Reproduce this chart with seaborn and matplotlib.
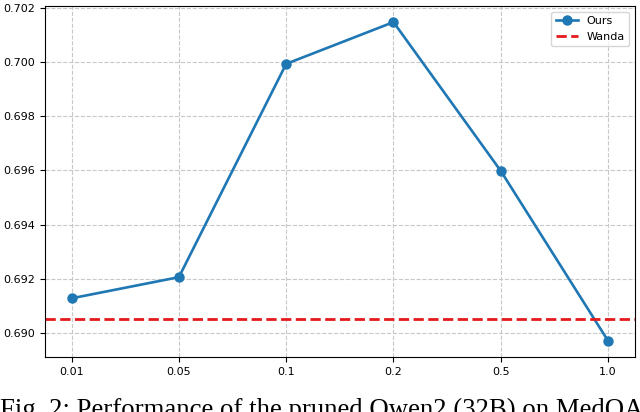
import pandas as pd
import matplotlib.pyplot as plt
import seaborn as sns

ratios = ['0.01', '0.05', '0.1', '0.2', '0.5', '1.0']
ours = [0.69128, 0.69206, 0.69993, 0.70147, 0.69598, 0.68971]
wanda = 0.69052

df = pd.DataFrame({'ratio': ratios, 'score': ours})

fig = plt.figure(figsize=(6.4, 4.12), dpi=100)
ax = fig.add_axes([0.070, 0.134, 0.922, 0.851])
sns.lineplot(data=df, x='ratio', y='score', ax=ax, marker='o', markersize=7.5,
             color='#1f77b4', linewidth=1.9, markeredgewidth=0, label='Ours')
ax.axhline(wanda, color='#e41a1c', linestyle='--', linewidth=2, label='Wanda')

ax.set_xlabel('')
ax.set_ylabel('')
ax.grid(True, linestyle='--', color='#c8c8c8', linewidth=0.8)
ax.tick_params(labelsize=8)
ax.yaxis.set_major_formatter(plt.FormatStrFormatter('%.3f'))
ax.legend(loc='upper right', fontsize=8)

fig.text(0.0, 0.003, 'Fig. 2: Performance of the pruned Qwen2 (32B) on MedQA',
         family='Liberation Serif', fontsize=19.3, va='center', ha='left')

plt.savefig('out.png', dpi=100)
